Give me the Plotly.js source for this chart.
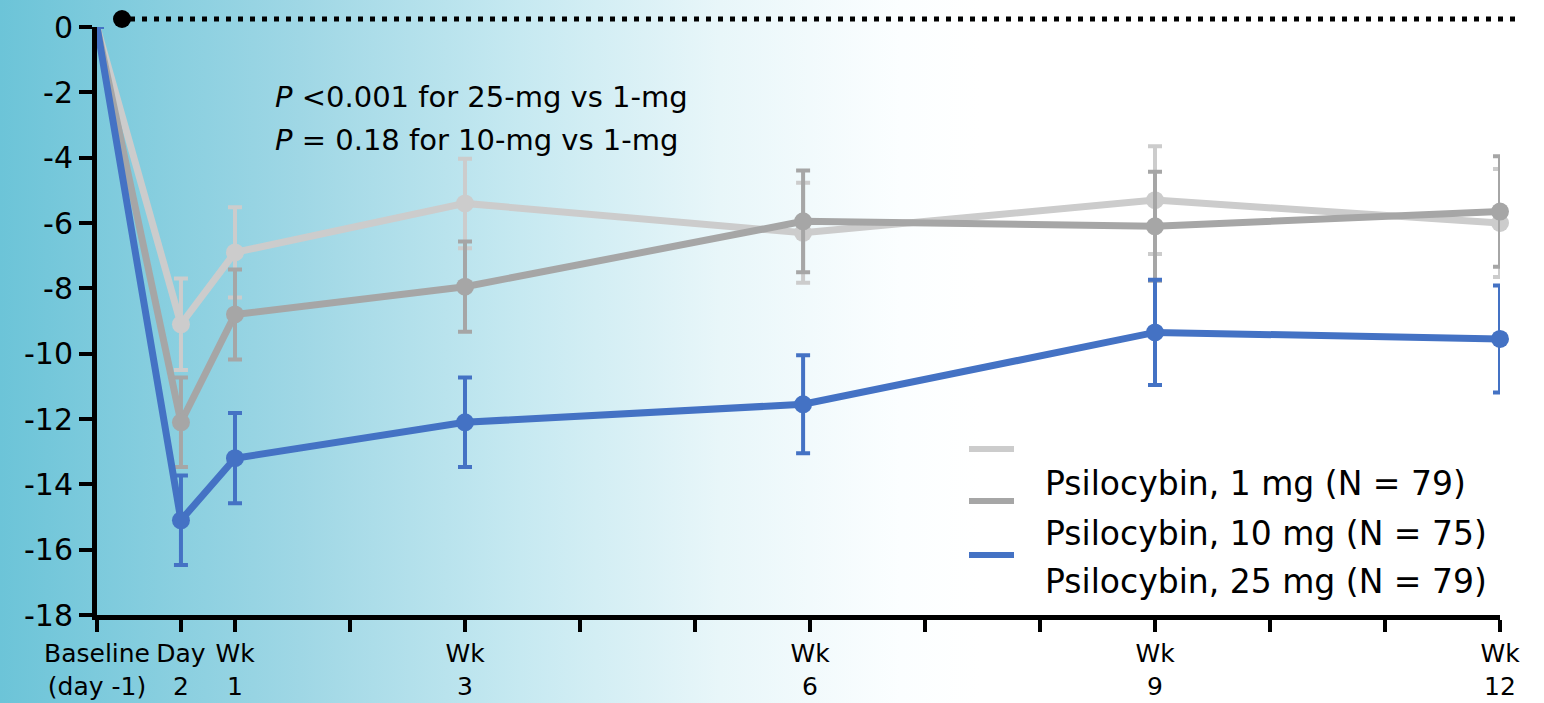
<!DOCTYPE html>
<html>
<head>
<meta charset="utf-8">
<script src="https://cdn.plot.ly/plotly-3.0.1.min.js"></script>
<style>
  html, body { margin: 0; padding: 0; }
  #chart {
    width: 1544px; height: 703px;
    background: linear-gradient(to right, #6cc4d8 0px, #9fd7e5 300px, #c6e9f1 520px, #e8f6f9 720px, #fbfeff 900px, #ffffff 980px);
  }
</style>
</head>
<body>
<div id="chart"></div>
<script>
// ---- data (x in weeks; baseline and day 2 placed as on the original axis) ----
const weeks   = [-0.2, 0.53, 1, 3, 5.94, 9, 12];
const mg1     = [0, -9.1, -6.9, -5.4, -6.3, -5.3, -6.0];
const mg1Err  = [null, 1.4, 1.38, 1.37, 1.53, 1.65, 1.65];
const mg10    = [0, -12.1, -8.8, -7.95, -5.95, -6.1, -5.65];
const mg10Err = [null, 1.37, 1.38, 1.38, 1.56, 1.67, 1.69];
const mg25    = [0, -15.1, -13.2, -12.1, -11.55, -9.35, -9.55];
const mg25Err = [null, 1.37, 1.38, 1.37, 1.5, 1.61, 1.64];
const markerSizes = [0, 18, 18, 18, 18, 18, 18];

const xTickVals = [-0.2, 0.53, 1, 2, 3, 4, 5, 6, 7, 8, 9, 10, 11, 12];
const xTickText = ['Baseline<br>(day -1)', 'Day<br>2', 'Wk<br>1', '', 'Wk<br>3', '', '', 'Wk<br>6', '', '', 'Wk<br>9', '', '', 'Wk<br>12'];
const yTickVals = [0, -2, -4, -6, -8, -10, -12, -14, -16, -18];
const yTickText = ['0', '-2', '-4', '-6', '-8', '-10', '-12', '-14', '-16', '-18'];

const seriesNames = ['Psilocybin, 1 mg (N = 79)', 'Psilocybin, 10 mg (N = 75)', 'Psilocybin, 25 mg (N = 79)'];
const seriesColors = ['#cccccc', '#a6a6a6', '#4472c4'];
const pText1 = '<i>P</i> <0.001 for 25-mg vs 1-mg';
const pText2 = '<i>P</i> = 0.18 for 10-mg vs 1-mg';

const FONT = 'DejaVu Sans, sans-serif';

function mk(y, err, color, name) {
  return {
    x: weeks, y: y, name: name, type: 'scatter', mode: 'lines+markers',
    opacity: 1,
    line: { color: color, width: 7 },
    marker: { color: color, size: markerSizes, opacity: 1, line: { width: 0 } },
    error_y: { type: 'data', array: err, visible: true, color: color, thickness: 4, width: 7 },
    cliponaxis: false, showlegend: false, hoverinfo: 'x+y'
  };
}

const data = [
  mk(mg1, mg1Err, seriesColors[0], seriesNames[0]),
  mk(mg10, mg10Err, seriesColors[1], seriesNames[1]),
  mk(mg25, mg25Err, seriesColors[2], seriesNames[2])
];

// pixel helpers for decorative placement (plot area: x 97..1500, y 27..615)
const L = 97, R = 44, T = 27, B = 88, W = 1544 - L - R, H = 703 - T - B;
const px = v => (v - L) / W;
const py = v => (703 - B - v) / H;

const shapes = [
  { type: 'line', xref: 'paper', yref: 'paper', x0: px(130), x1: px(1522), y0: py(19), y1: py(19),
    line: { color: '#000', width: 5, dash: '5px,7px' } },
  { type: 'circle', xref: 'paper', yref: 'paper', x0: px(113), x1: px(131), y0: py(28), y1: py(10),
    fillcolor: '#000', line: { color: '#000', width: 0 } }
];
const legendY = [449, 501, 555];
const legendTextY = [483, 533, 581];
const annotations = [
  { xref: 'paper', yref: 'paper', x: px(273), y: py(97), xanchor: 'left', yanchor: 'middle', showarrow: false,
    text: pText1, font: { family: FONT, size: 29, color: '#000' } },
  { xref: 'paper', yref: 'paper', x: px(273), y: py(140), xanchor: 'left', yanchor: 'middle', showarrow: false,
    text: pText2, font: { family: FONT, size: 29, color: '#000' } }
];
for (let i = 0; i < 3; i++) {
  shapes.push({ type: 'line', xref: 'paper', yref: 'paper', x0: px(969), x1: px(1014), y0: py(legendY[i]), y1: py(legendY[i]),
    line: { color: seriesColors[i], width: 6 } });
  annotations.push({ xref: 'paper', yref: 'paper', x: px(1043), y: py(legendTextY[i]), xanchor: 'left', yanchor: 'middle',
    showarrow: false, text: seriesNames[i], font: { family: FONT, size: 33, color: '#000' } });
}

const layout = {
  width: 1544, height: 703,
  margin: { l: L, r: R, t: T, b: B, pad: 0 },
  paper_bgcolor: 'rgba(0,0,0,0)', plot_bgcolor: 'rgba(0,0,0,0)',
  font: { family: FONT, color: '#000' },
  xaxis: {
    range: [-0.2, 12], showgrid: false, zeroline: false,
    showline: true, linecolor: '#000', linewidth: 5,
    tickmode: 'array', tickvals: xTickVals, ticktext: xTickText,
    ticks: 'outside', ticklen: 12, tickwidth: 4, tickcolor: '#000',
    tickfont: { family: FONT, size: 25, color: '#000' }, tickangle: 0
  },
  yaxis: {
    range: [-18, 0], showgrid: false, zeroline: false,
    showline: true, linecolor: '#000', linewidth: 5,
    tickmode: 'array', tickvals: yTickVals, ticktext: yTickText,
    ticks: 'outside', ticklen: 13, tickwidth: 4, tickcolor: '#000',
    tickfont: { family: FONT, size: 30, color: '#000' }
  },
  shapes: shapes,
  annotations: annotations,
  showlegend: false
};

Plotly.newPlot('chart', data, layout, { displayModeBar: false, staticPlot: true });
</script>
</body>
</html>
